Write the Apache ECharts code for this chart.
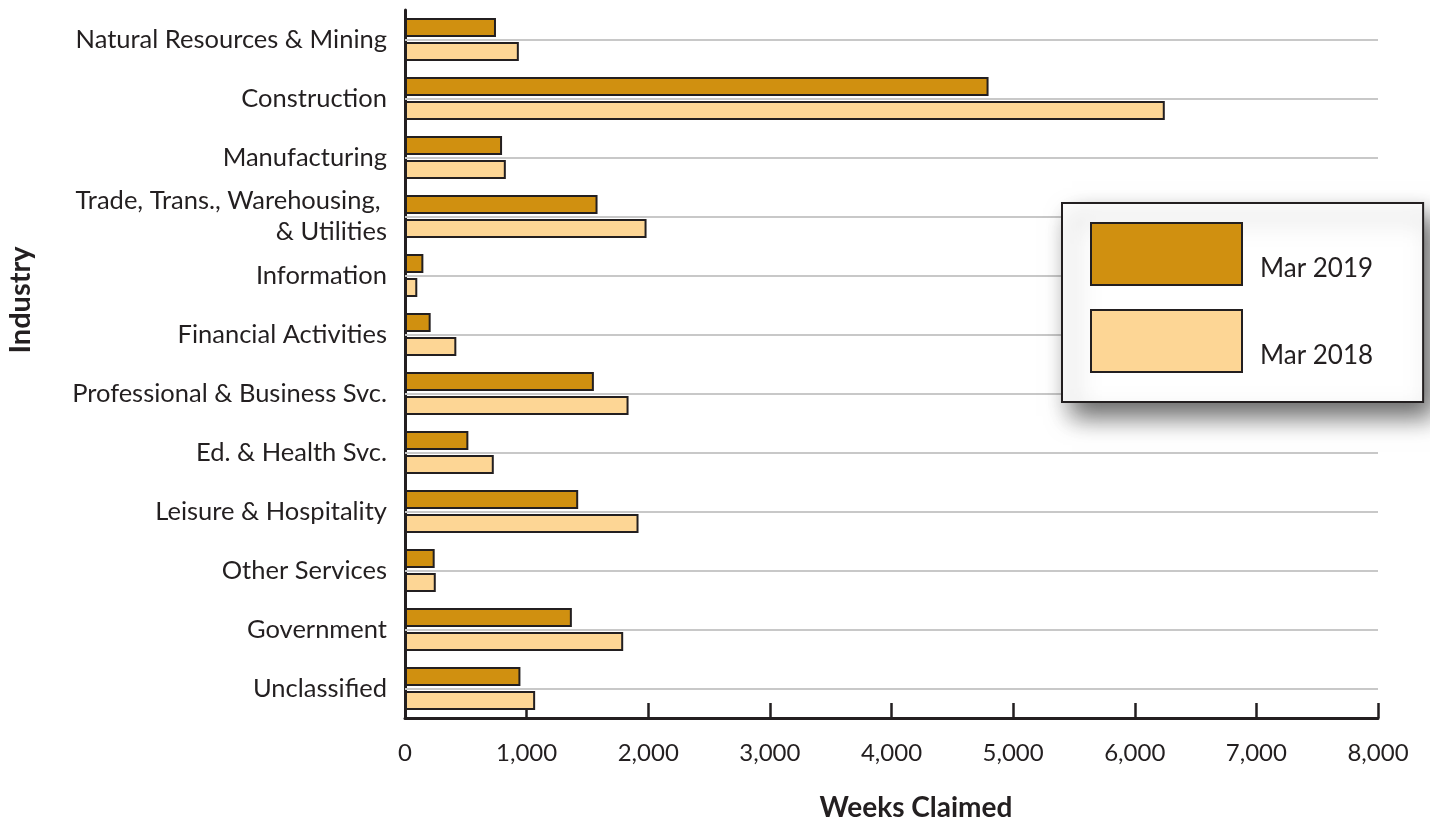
<!DOCTYPE html>
<html>
<head>
<meta charset="utf-8">
<script src="https://cdn.jsdelivr.net/npm/echarts@6/dist/echarts.min.js"></script>
<style>
html,body{margin:0;padding:0;background:#fff;}
#chart{width:1430px;height:823px;}
</style>
</head>
<body>
<div id="chart"></div>
<script>
const categories = [
  'Natural Resources & Mining',
  'Construction',
  'Manufacturing',
  'Trade, Trans., Warehousing, \n& Utilities',
  'Information',
  'Financial Activities',
  'Professional & Business Svc.',
  'Ed. & Health Svc.',
  'Leisure & Hospitality',
  'Other Services',
  'Government',
  'Unclassified'
];
const mar2019 = [748, 4798, 798, 1583, 151, 211, 1553, 521, 1424, 244, 1372, 949];
const mar2018 = [936, 6247, 829, 1986, 101, 422, 1838, 730, 1920, 253, 1794, 1070];
const xTicks = [0, 1000, 2000, 3000, 4000, 5000, 6000, 7000, 8000];

const FONT = 'Lato';
const INK = '#231f20';

const chart = echarts.init(document.getElementById('chart'));
chart.setOption({
  animation: false,
  textStyle: { fontFamily: FONT },
  grid: { left: 405, right: 52, top: 10, bottom: 105, containLabel: false },
  legend: {
    orient: 'vertical',
    left: 1062,
    top: 203,
    z: 10,
    padding: [19, 50, 29, 28],
    itemGap: 23,
    itemWidth: 151,
    itemHeight: 62,
    icon: 'rect',
    backgroundColor: '#fff',
    borderColor: INK,
    borderWidth: 2,
    shadowBlur: 24,
    shadowColor: 'rgba(0,0,0,0.6)',
    shadowOffsetX: 10,
    shadowOffsetY: 14,
    formatter: name => '{t|' + name + '}',
    textStyle: {
      fontFamily: FONT, fontSize: 26, color: INK,
      rich: { t: { fontFamily: FONT, fontSize: 26, color: INK, padding: [30, 0, 0, 13] } }
    },
    data: ['Mar 2019', 'Mar 2018']
  },
  xAxis: {
    type: 'value',
    min: xTicks[0],
    max: xTicks[xTicks.length - 1],
    interval: xTicks[1] - xTicks[0],
    axisLine: { show: true, lineStyle: { color: INK, width: 3 } },
    axisTick: { show: true, inside: true, length: 15, lineStyle: { color: INK, width: 2.5 } },
    splitLine: { show: false },
    axisLabel: {
      margin: 23,
      fontSize: 24,
      color: INK,
      fontFamily: FONT,
      formatter: v => v.toLocaleString('en-US')
    }
  },
  yAxis: {
    type: 'category',
    inverse: true,
    data: categories,
    axisLine: { show: true, lineStyle: { color: INK, width: 3 } },
    axisTick: { show: false },
    splitLine: { show: false },
    axisLabel: {
      margin: 18,
      fontSize: 25.5,
      lineHeight: 31,
      color: INK,
      fontFamily: FONT,
      align: 'right'
    }
  },
  graphic: [
    {
      type: 'text',
      x: 916, y: 808,
      style: { text: 'Weeks Claimed', font: 'bold 28px ' + FONT, fill: INK, align: 'center', verticalAlign: 'middle' }
    },
    {
      type: 'text',
      x: 21, y: 300,
      rotation: Math.PI / 2,
      style: { text: 'Industry', font: 'bold 29px ' + FONT, fill: INK, align: 'center', verticalAlign: 'middle' }
    }
  ],
  series: [
    {
      name: 'gridlines',
      type: 'line',
      data: [],
      silent: true,
      z: 1,
      markLine: {
        silent: true,
        z: 1,
        symbol: 'none',
        label: { show: false },
        lineStyle: { color: '#c8c8c8', width: 2, type: 'solid' },
        data: categories.map(c => ({ yAxis: c }))
      }
    },
    {
      name: 'Mar 2019',
      type: 'bar',
      data: mar2019,
      barWidth: 19,
      barGap: '26%',
      itemStyle: { color: '#d09010', borderColor: INK, borderWidth: 2 },
      z: 3
    },
    {
      name: 'Mar 2018',
      type: 'bar',
      data: mar2018,
      barWidth: 19,
      barGap: '26%',
      itemStyle: { color: '#fdd695', borderColor: INK, borderWidth: 2 },
      z: 3
    }
  ]
});
</script>
</body>
</html>
